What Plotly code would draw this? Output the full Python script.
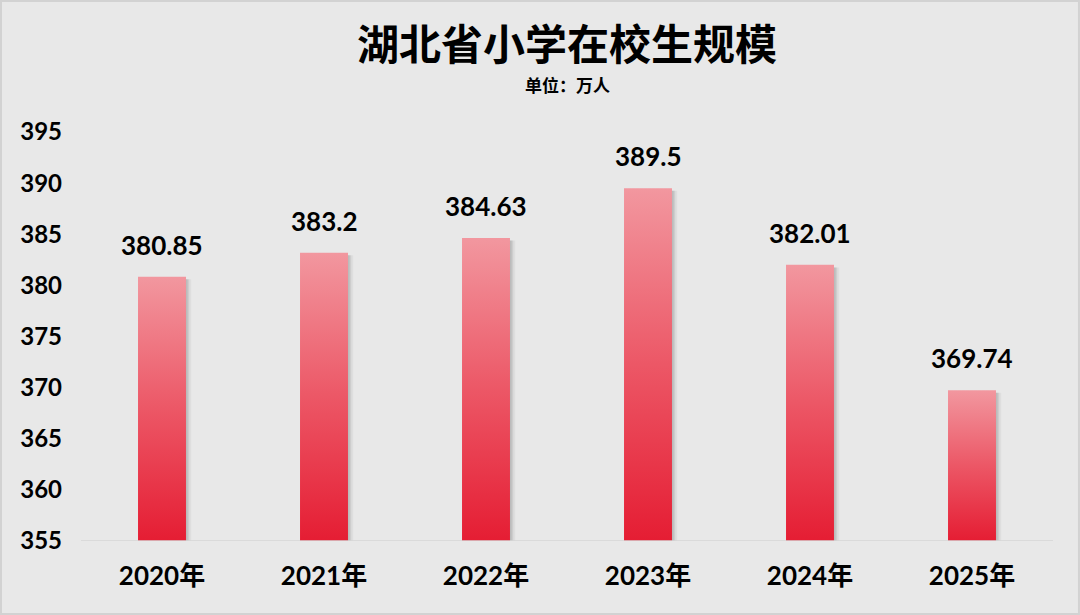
import plotly.graph_objects as go

years = ['2020年', '2021年', '2022年', '2023年', '2024年', '2025年']
students = [380.85, 383.2, 384.63, 389.5, 382.01, 369.74]
value_labels = ['380.85', '383.2', '384.63', '389.5', '382.01', '369.74']
y_ticks = [355, 360, 365, 370, 375, 380, 385, 390, 395]

base = 355
half_w = 0.148
font_family = 'Lato, "Noto Sans CJK SC", sans-serif'
cjk_family = '"Noto Sans CJK SC", sans-serif'

fig = go.Figure()

# soft shadow to the right of each bar, then the gradient bar on top
for i, v in enumerate(students):
    for dx, alpha in [(0.032, 0.06), (0.020, 0.10), (0.010, 0.12)]:
        fig.add_trace(go.Scatter(
            x=[i - half_w + dx, i + half_w + dx, i + half_w + dx, i - half_w + dx, i - half_w + dx],
            y=[base, base, v - 0.25, v - 0.25, base],
            mode='lines', fill='toself', line=dict(width=0),
            fillcolor='rgba(60,60,60,%s)' % alpha,
            hoverinfo='skip', showlegend=False,
        ))
    fig.add_trace(go.Scatter(
        x=[i - half_w, i + half_w, i + half_w, i - half_w, i - half_w],
        y=[base, base, v, v, base],
        mode='lines', fill='toself', line=dict(width=0),
        fillgradient=dict(type='vertical',
                          colorscale=[[0, '#e51d33'], [0.5, '#ec5766'], [1, '#f2979f']]),
        hoverinfo='skip', showlegend=False,
    ))

annotations = [
    dict(x=i, y=v, text='<b>%s</b>' % lab, showarrow=False, yanchor='bottom', yshift=14,
         font=dict(family=font_family, size=26, color='#000000'))
    for i, (v, lab) in enumerate(zip(students, value_labels))
]
annotations.append(dict(text='<b>单位：万人</b>', xref='paper', yref='paper', x=0.5, y=1.117,
                        xanchor='center', yanchor='middle', showarrow=False,
                        font=dict(family=cjk_family, size=17, color='#000000')))

fig.update_layout(
    width=1080, height=615,
    margin=dict(l=81, r=27, t=132, b=74),
    paper_bgcolor='#e8e8e8', plot_bgcolor='#e8e8e8',
    title=dict(text='<b>湖北省小学在校生规模</b>', x=0.5, xref='paper', xanchor='center',
               y=0.927, yanchor='middle',
               font=dict(family=cjk_family, size=42, color='#000000')),
    annotations=annotations,
    shapes=[dict(type='rect', xref='paper', yref='paper', x0=-0.0823, x1=1.0267,
                 y0=-0.1785, y1=1.3203, line=dict(color='#d2d2d2', width=2), layer='below')],
    xaxis=dict(range=[-0.5, 5.5], tickvals=list(range(len(years))), ticktext=years,
               showgrid=False, zeroline=False, showline=False, ticks='', ticklabelstandoff=17,
               tickfont=dict(family=font_family, size=26, color='#000000', weight='bold')),
    yaxis=dict(range=[355, 395], tickvals=y_ticks, showgrid=False, zeroline=False,
               showline=False, ticks='', ticklabelstandoff=18,
               tickfont=dict(family=font_family, size=24, color='#000000', weight='bold')),
)
fig.add_hline(y=355, line=dict(color='#d6d6d6', width=1.5))

fig.write_html('out.html', config={'displayModeBar': False},
               post_script="document.body.style.margin='0';")
